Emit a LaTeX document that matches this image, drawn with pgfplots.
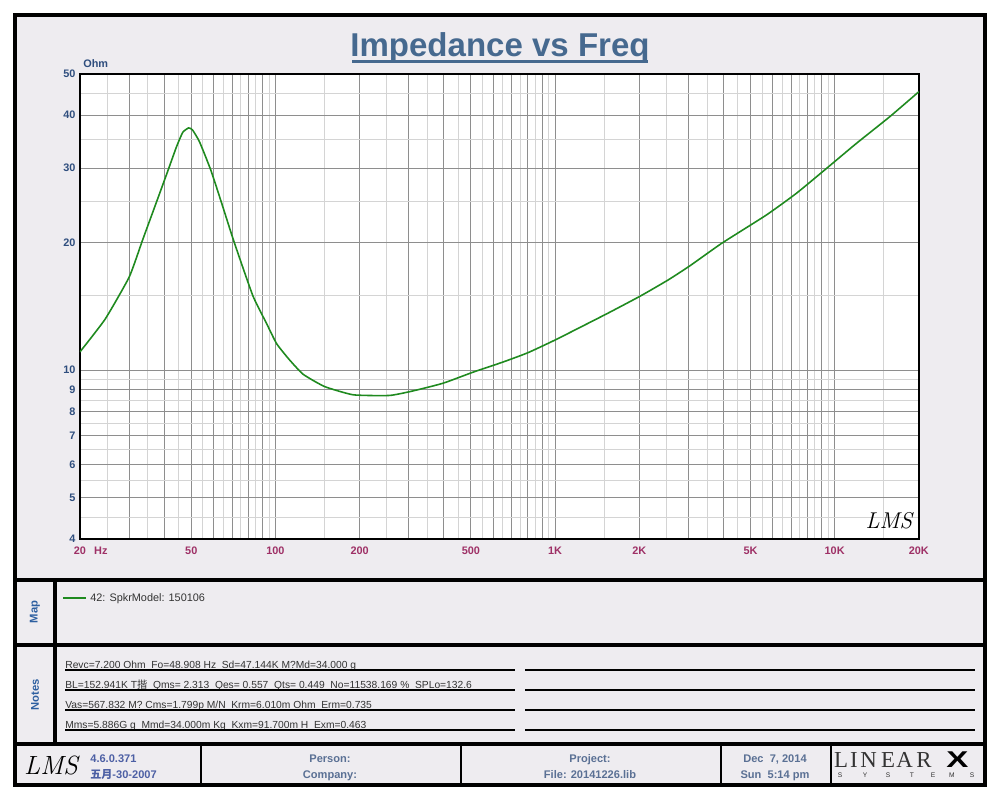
\documentclass[border=0pt]{standalone}
\usepackage{pgfplots}
\pgfplotsset{compat=1.18}
\usepackage{fontspec}
\newfontfamily\arial{Liberation Sans}
\newfontfamily\tnr{Liberation Serif}
\newfontfamily\cjk{Noto Sans CJK SC}
\definecolor{bgc}{HTML}{EEECF0}
\definecolor{titlec}{HTML}{46698F}
\definecolor{ylabc}{HTML}{2F4E7E}
\definecolor{xlabc}{HTML}{9E3066}
\definecolor{mapc}{HTML}{2D5FA0}
\definecolor{botc}{HTML}{5A7094}
\definecolor{notec}{HTML}{333333}
\definecolor{curvec}{HTML}{1F8A1F}
\definecolor{gmaj}{HTML}{8E8E8E}
\definecolor{gmin}{HTML}{D4D4D4}
\begin{document}
\begin{tikzpicture}
\begin{scope}[x=0.02cm,y=-0.02cm]
\useasboundingbox (0,0) rectangle (1000,800);
\fill[white] (0,0) rectangle (1000,800);
\fill[bgc] (15,15) rectangle (985,785);
\end{scope}
\begin{axis}[
  at={(1.6cm,-10.78cm)}, anchor=south west,
  scale only axis, width=16.78cm, height=9.3cm,
  xmode=log, ymode=log,
  xmin=20, xmax=20000, ymin=4, ymax=50,
  axis background/.style={fill=white},
  axis line style={line width=1.4pt, black},
  xtick={20,30,40,50,60,70,80,90,100,200,300,400,500,600,700,800,900,1000,2000,3000,4000,5000,6000,7000,8000,9000,10000,20000},
  xticklabels={20\rlap{\hspace{0.75em}Hz},,,50,,,,,100,200,,,500,,,,,1K,2K,,,5K,,,,,10K,20K},
  minor xtick={25,35,45,55,65,75,85,95,150,250,350,450,550,650,750,850,950,1500,2500,3500,4500,5500,6500,7500,8500,9500,15000},
  ytick={4,5,6,7,8,9,10,20,30,40,50},
  yticklabels={4,5,6,7,8,9,10,20,30,40,50},
  minor ytick={4.5,5.5,6.5,7.5,8.5,9.5,15,25,35,45},
  grid=both,
  major grid style={draw=gmaj, line width=0.55pt},
  minor grid style={draw=gmin, line width=0.55pt},
  major tick length=0pt, minor tick length=0pt,
  xticklabel style={font=\arial\bfseries\fontsize{6.2}{7}\selectfont, text=xlabc, yshift=-1pt},
  yticklabel style={font=\arial\bfseries\fontsize{6.2}{7}\selectfont, text=ylabc, xshift=1pt},
]
\addplot[color=curvec, line width=0.9pt, smooth, tension=0.3] coordinates {
(20,11.05) (24.6,13.2) (30,16.6) (33.5,20.3) (37.1,24.4)
(41.2,29.5) (44.3,33.7) (46.6,36.4) (48.9,37.3) (50.5,36.9) (53.5,34.6)
(58.8,29.6) (64.2,24.8) (71.1,20.1) (83,15.0) (92.9,12.9) (101,11.55)
(112,10.6) (125.7,9.78) (150,9.15) (190,8.75) (256,8.72) (311,8.94)
(398,9.32) (510,9.9) (650,10.45) (800,11.0) (1012,11.83) (1528,13.58)
(2021,14.97) (2537,16.33) (3034,17.63) (3950,19.94) (5704,23.25)
(7300,26.15) (9218,29.7) (11963,34.3) (15740,39.65) (20000,45.4)
};
\end{axis}
\begin{scope}[x=0.02cm,y=-0.02cm]
% title
\node[anchor=base, inner sep=0, text=titlec, font=\arial\bfseries\fontsize{18.8}{20}\selectfont] at (500,57) {Impedance vs Freq};
\draw[titlec, line width=1.5pt] (352,61.5) -- (648,61.5);
\node[anchor=base west, inner sep=0, text=ylabc, font=\arial\bfseries\fontsize{6.2}{7}\selectfont] at (83,68) {Ohm};
% in-plot logo
\node[font=\itshape\fontsize{13}{14}\selectfont] at (889,521) {LMS};
% frame
\draw[line width=2.5pt] (15,15) rectangle (985,785);
\draw[line width=2pt] (15,580) -- (985,580);
\draw[line width=2pt] (15,645) -- (985,645);
\draw[line width=2pt] (15,744) -- (985,744);
\draw[line width=2pt] (55,580) -- (55,744);
\draw[line width=1.6pt] (201,744) -- (201,785);
\draw[line width=1.6pt] (461,744) -- (461,785);
\draw[line width=1.6pt] (721,744) -- (721,785);
\draw[line width=1.6pt] (831,744) -- (831,785);
% Map / Notes labels
\node[rotate=90, text=mapc, font=\arial\bfseries\fontsize{6.4}{7}\selectfont] at (35,612) {Map};
\node[rotate=90, text=mapc, font=\arial\bfseries\fontsize{6.4}{7}\selectfont] at (35,695) {Notes};
% legend
\draw[curvec, line width=0.9pt] (63,598) -- (86,598);
\node[anchor=base west, inner sep=0, text=notec, font=\arial\fontsize{6.2}{7}\selectfont] at (90,601.5) {42: SpkrModel: 150106};
% notes
\begin{scope}[every node/.style={anchor=base west, inner sep=0, text=notec, font=\arial\fontsize{5.85}{7}\selectfont}]
\node at (65,668.5) {Revc=7.200 Ohm\ \ Fo=48.908 Hz\ \ Sd=47.144K M?Md=34.000 g};
\node at (65,688.5) {BL=152.941K T{\cjk 揩}\ \ Qms= 2.313\ \ Qes= 0.557\ \ Qts= 0.449\ \ No=11538.169 \%\ \ SPLo=132.6};
\node at (65,708.5) {Vas=567.832 M? Cms=1.799p M/N\ \ Krm=6.010m Ohm\ \ Erm=0.735};
\node at (65,728.5) {Mms=5.886G g\ \ Mmd=34.000m Kg\ \ Kxm=91.700m H\ \ Exm=0.463};
\end{scope}
\foreach \yy in {670,690,710,730} {
  \draw[black, line width=0.6pt] (65,\yy) -- (515,\yy);
  \draw[black, line width=0.6pt] (525,\yy) -- (975,\yy);
}
% bottom bar
\node[font=\itshape\fontsize{15}{16}\selectfont] at (51,765) {LMS};
\begin{scope}[every node/.style={inner sep=0, font=\arial\bfseries\fontsize{6.3}{9.1}\selectfont}]
\node[anchor=base west, align=left, text=botc!85!blue] at (90,778) {4.6.0.371\\{\cjk\bfseries 五月}-30-2007};
\node[anchor=base, align=center, text=botc] at (330,778) {Person:\\Company:};
\node[anchor=base, align=center, text=botc] at (590,778) {Project:\\File: 20141226.lib};
\node[anchor=base, align=center, text=botc] at (775,778) {Dec\ \ 7, 2014\\Sun\ \ 5:14 pm};
\end{scope}
\begin{scope}[every node/.style={inner sep=0, anchor=base, text=notec, font=\tnr\fontsize{13}{14}\selectfont}]
\node at (841,767) {L};
\node at (854,767) {I};
\node at (868.5,767) {N};
\node at (888,767) {E};
\node at (904.5,767) {A};
\node at (924,767) {R};
\end{scope}
\node[inner sep=0, anchor=base, xscale=1.45, font=\arial\bfseries\fontsize{13}{14}\selectfont] at (957.5,767) {X};
\begin{scope}[every node/.style={inner sep=0, anchor=base, text=notec, font=\arial\fontsize{3.8}{4}\selectfont}]
\node at (840,777) {S};
\node at (865,777) {Y};
\node at (888,777) {S};
\node at (912,777) {T};
\node at (933,777) {E};
\node at (952,777) {M};
\node at (972,777) {S};
\end{scope}
\end{scope}
\end{tikzpicture}
\end{document}
